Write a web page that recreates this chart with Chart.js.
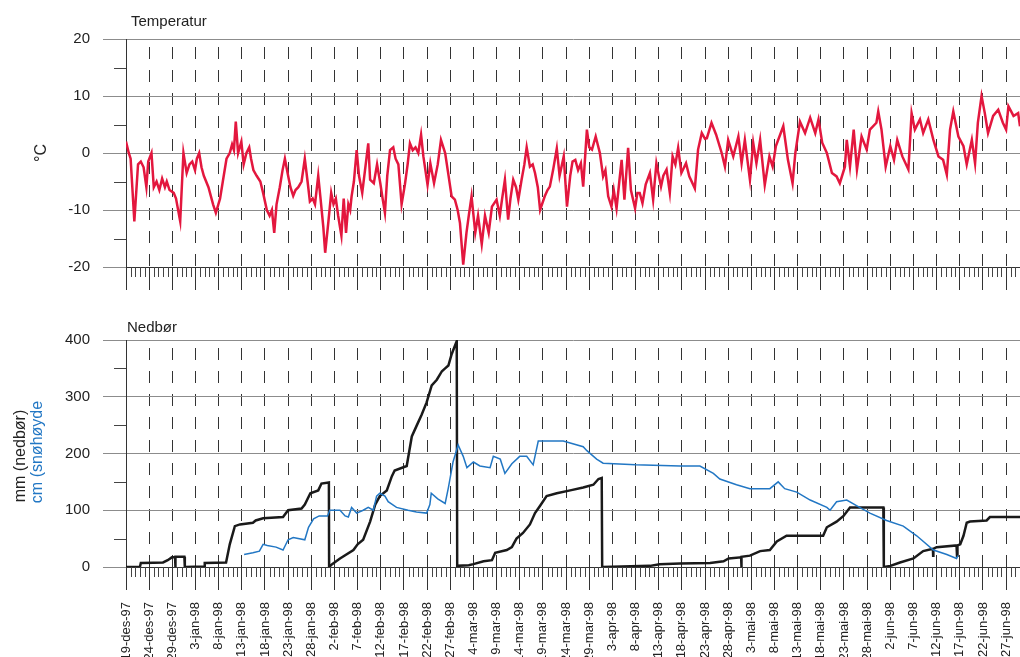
<!DOCTYPE html>
<html>
<head>
<meta charset="utf-8">
<script src="https://cdn.jsdelivr.net/npm/chart.js@4.4.1/dist/chart.umd.min.js"></script>
<style>
  body { margin: 0; background: #fff; font-family: "Liberation Sans", Arial, sans-serif; }
  #wrap { position: relative; width: 1020px; height: 657px; overflow: hidden; }
  canvas { position: absolute; left: 0; }
  .lbl { position: absolute; font-size: 15px; color: #222; white-space: nowrap; }
  .rot { font-size: 16px; transform: translate(-50%, -50%) rotate(-90deg); }
</style>
</head>
<body>
<div id="wrap">
  <canvas id="tempChart" width="1020" height="300" style="top:0"></canvas>
  <canvas id="rainChart" width="1020" height="357" style="top:300px"></canvas>
  <div class="lbl" style="left:131px; top:12px">Temperatur</div>
  <div class="lbl" style="left:127px; top:318px">Nedbør</div>
  <div class="lbl rot" style="left:41px; top:153px">°C</div>
  <div class="lbl rot" style="left:20px; top:456px">mm (nedbør)</div>
  <div class="lbl rot" style="left:37px; top:452px; color:#2277c4">cm (snøhøyde</div>
</div>
<script>
// days counted from 19-des-97
var lastDay = 193;

var dateLabels = ['19-des-97', '24-des-97', '29-des-97', '3-jan-98', '8-jan-98', '13-jan-98', '18-jan-98',
  '23-jan-98', '28-jan-98', '2-feb-98', '7-feb-98', '12-feb-98', '17-feb-98', '22-feb-98', '27-feb-98',
  '4-mar-98', '9-mar-98', '14-mar-98', '19-mar-98', '24-mar-98', '29-mar-98', '3-apr-98', '8-apr-98',
  '13-apr-98', '18-apr-98', '23-apr-98', '28-apr-98', '3-mai-98', '8-mai-98', '13-mai-98', '18-mai-98',
  '23-mai-98', '28-mai-98', '2-jun-98', '7-jun-98', '12-jun-98', '17-jun-98', '22-jun-98', '27-jun-98'];

// temperature (°C)
var tempDays = [0, 0.3, 0.6, 1.0, 1.8, 2.6, 3.2, 3.8, 4.4, 4.8, 5.5, 6.0, 6.6, 7.2, 7.8, 8.4, 8.8, 9.4, 10.3, 10.8,
  11.7, 12.4, 13.1, 13.7, 14.3, 14.9, 15.3, 15.8, 16.3, 16.8, 17.8, 18.8, 19.4, 20.3, 20.9, 21.7, 22.4, 22.9, 23.3, 23.7,
  24.2, 24.9, 25.4, 26.0, 26.6, 27.0, 27.5, 28.2, 29.0, 29.6, 30.4, 31.0, 31.5, 32.0, 32.5, 33.2, 33.8, 34.3, 35.0, 35.5,
  36.1, 36.6, 37.2, 37.9, 38.6, 39.2, 39.7, 40.3, 40.8, 41.5, 42.0, 42.6, 43.0, 43.7, 44.3, 44.8, 45.3, 45.8, 46.5, 47.0,
  47.5, 48.0, 48.4, 48.7, 49.2, 49.8, 50.3, 51.0, 51.6, 52.3, 52.7, 53.5, 54.2, 54.9, 55.4, 55.9, 56.4, 57.0, 57.7, 58.2,
  58.8, 59.5, 60.2, 60.8, 61.3, 61.9, 62.5, 63.1, 63.7, 64.2, 65.1, 65.7, 66.5, 67.3, 68.0, 68.9, 69.6, 70.3, 71.0, 71.6,
  72.1, 72.8, 73.5, 74.0, 74.6, 75.4, 76.0, 76.8, 77.5, 78.3, 79.0, 80.0, 80.7, 81.2, 81.8, 82.5, 83.0, 83.6, 84.2, 84.7,
  85.4, 86.0, 86.5, 87.2, 87.8, 88.3, 88.9, 89.4, 90.4, 91.0, 91.5, 92.2, 93.0, 93.6, 94.5, 95.2, 95.9, 96.4, 97.0, 97.6,
  98.2, 98.7, 99.5, 100.0, 100.6, 101.4, 102.3, 103.0, 103.5, 104.1, 104.8, 105.3, 105.9, 106.5, 107.0, 107.6, 108.4, 109.0, 109.9, 110.4,
  110.9, 111.5, 112.2, 113.1, 113.8, 114.5, 115.5, 116.0, 116.7, 117.4, 118.0, 118.6, 119.2, 119.9, 120.9, 121.6, 122.8, 123.5, 124.3, 125.0,
  125.4, 126.4, 127.4, 128.6, 129.3, 130.0, 131.1, 132.2, 132.9, 133.6, 134.7, 135.4, 136.1, 136.9, 137.9, 138.9, 139.6, 140.3, 141.9, 142.9,
  143.9, 144.5, 145.5, 146.6, 147.7, 148.8, 149.5, 150.3, 151.3, 152.4, 153.4, 154.1, 155.2, 155.6, 156.3, 157.1, 157.8, 158.8, 159.9, 160.6,
  162.0, 162.4, 163.1, 164.0, 165.0, 165.8, 166.5, 167.6, 168.9, 169.6, 170.3, 171.4, 172.1, 173.2, 174.3, 175.4, 176.4, 177.2, 177.9, 178.6,
  179.7, 180.8, 181.5, 182.6, 183.3, 183.9, 184.7, 185.4, 186.1, 187.2, 188.3, 189.3, 190.0, 190.5, 191.6, 192.6, 193.0];
var tempVals = [2, 1, 0, -1, -12, -2, -1.5, -2.5, -6, -1.5, 0, -6, -5, -6.5, -4.5, -6, -5, -6.5, -7, -8,
  -12, 0, -3.5, -2, -1.5, -3, -1, 0, -2.5, -4, -6, -9, -10.5, -8, -5, -1, 0, 1.5, 0.5, 5.5,
  0, 2, -2, 0, 1, -1, -3, -4, -5, -7, -10, -11, -10, -14, -9, -6, -3, -1, -4, -6,
  -7.5, -6.5, -6, -5, -1, -5, -8.5, -8, -9, -4, -8, -13, -17.5, -12, -7, -9, -8, -11, -14.5, -8,
  -14, -9, -10, -7.6, -5, 0.5, -4, -7, -3, 1.7, -4.7, -5.3, -2, -5.3, -8, -10.5, -4, 0.5, 1, -1,
  -2, -9, -5.6, -2, 1.7, 0.5, 1, 0, 3.2, -0.6, -5.6, -1.8, -5.3, -2, 2.3, 0, -3.8, -7.6, -8.2, -10,
  -12.3, -19.6, -14, -11, -7.6, -14, -11, -16, -11, -14, -9.4, -8.2, -11, -8, -4.7, -11.7, -8, -4.7, -6, -8.2,
  -4.7, -2, 1, -2.4, -2, -3.5, -6, -10, -7.6, -6.5, -5.9, -3, 0.8, -4, -0.6, -9.4, -4, -1.5, -1.2, -3,
  -1.8, -5.9, 4.1, 1, 0.6, 2.9, 0, -4.1, -3, -7.6, -9.4, -6.5, -9.7, -5, -1.2, -8.2, 0.9, -6.5, -9.7, -7,
  -7, -8.8, -5.5, -3.5, -8.2, -1.8, -5.9, -4, -2.9, -7, -0.6, -2, 0.9, -3.5, -1.8, -4.1, -6.2, 0.6, 3.5, 2.5,
  2.6, 5.3, 3.2, 0, -2.4, 2.3, -0.6, 2.9, -1.8, 2.3, -4.7, 1.8, -1.8, 2.3, -5.6, -0.6, -2.4, 1.2, 4.7, -1.2,
  -5.3, 0, 5.5, 3.5, 6.2, 3.5, 5.9, 1.8, 0, -3.5, -4.1, -5.3, -2.4, 2.3, -2.4, 4.1, -2.9, 2.9, 0.6, 4.1,
  5.3, 7.3, 4.1, -2.4, 1.2, -1.2, 2.3, -0.6, -2.9, 7, 4.1, 5.9, 3.5, 5.9, 2.3, -0.6, -1.2, -3.8, 4.1, 7.3,
  2.9, 1.2, -2, 2.3, -1.8, 5.3, 10, 7, 3.5, 6.5, 7.6, 5.3, 4.1, 8.2, 6.5, 7, 4.7];

// accumulated precipitation (mm)
var rainDays = [0, 3.0, 3.2, 6.0, 8.0, 9.0, 9.9, 10.6, 10.65, 10.7, 12.6, 12.7, 16.9, 17.0, 21.6, 22.4, 23.5, 24.6, 27.4, 28.0,
  29.6, 33.9, 35.0, 37.9, 38.6, 39.8, 41.5, 42.2, 43.8, 43.85, 44.5, 46.2, 49.1, 50.0, 51.2, 52.7, 53.8, 54.8, 56.3, 57.4,
  58.0, 60.6, 61.7, 62.8, 63.8, 64.9, 66.0, 67.1, 68.2, 68.9, 69.6, 70.3, 71.4, 71.5, 74.0, 75.0, 77.2, 79.0, 79.7, 82.2,
  83.3, 84.3, 85.7, 87.2, 88.3, 89.4, 90.8, 93.0, 95.9, 98.7, 100.9, 102.0, 102.7, 102.8, 113.1, 115.2, 119.6, 126.1, 129.0, 130.1,
  132.8, 132.85, 132.9, 134.7, 136.9, 139.0, 140.5, 142.6, 150.5, 151.3, 153.4, 154.9, 156.3, 163.5, 163.6, 165.0, 167.1, 170.0, 172.1, 174.2,
  174.25, 174.3, 175.0, 179.3, 179.4, 179.5, 180.1, 180.8, 181.5, 182.2, 185.8, 186.5, 193.0];
var rainVals = [0, 0, 7, 7.5, 8, 12, 17, 17, 0, 18, 18, 0, 1, 7, 8, 40, 72, 75, 78, 82,
  86, 88, 100, 103, 110, 130, 135, 147, 149, 0, 5, 15, 30, 40, 48, 80, 110, 125, 135, 160,
  170, 178, 230, 250, 268, 290, 320, 330, 345, 350, 355, 375, 398, 2, 3, 5, 10, 12, 25, 30,
  35, 50, 60, 75, 95, 108, 125, 130, 135, 140, 145, 155, 157, 0, 2, 5, 6, 7, 10, 15,
  17, 0, 18, 20, 28, 30, 45, 55, 55, 70, 80, 90, 105, 105, 0, 2, 8, 15, 28, 32,
  20, 32, 35, 38, 20, 38, 40, 55, 78, 80, 82, 88, 88];

// snow depth (cm)
var snowDays = [25.5, 27.4, 28.8, 29.6, 30.5, 32.4, 33.9, 35.0, 36.1, 38.6, 39.4, 40.5, 41.7, 43.5, 44.0, 46.2, 47.3, 48.0, 48.7, 49.8,
  51.2, 52.3, 53.4, 54.1, 54.8, 55.9, 56.6, 58.4, 60.9, 62.7, 64.9, 65.6, 65.9, 67.3, 68.9, 69.6, 70.6, 71.7, 72.8, 73.6,
  75.0, 76.4, 78.6, 79.3, 80.8, 81.8, 83.3, 85.0, 86.5, 87.9, 89.0, 94.4, 98.7, 99.5, 101.6, 103.0, 110.0, 119.6, 123.9, 126.8,
  128.2, 131.8, 134.7, 139.0, 140.8, 142.2, 144.8, 147.7, 151.3, 152.0, 153.4, 155.6, 157.7, 160.6, 164.2, 167.8, 170.7, 174.3, 177.2, 179.3, 179.6];
var snowVals = [22, 25, 28, 40, 38, 35, 30, 48, 52, 48, 70, 85, 90, 90, 100, 100, 90, 88, 105, 95,
  100, 105, 100, 125, 130, 125, 115, 105, 100, 97, 95, 110, 130, 120, 112, 140, 185, 215, 195, 175,
  185, 178, 175, 195, 190, 165, 182, 195, 195, 180, 222, 222, 212, 205, 190, 183, 180, 178, 178, 165,
  155, 145, 138, 138, 150, 138, 132, 118, 105, 100, 115, 118, 108, 95, 82, 72, 55, 30, 22, 15, 20];

function toPoints(days, vals) {
  var out = [];
  for (var i in days) {
    out.push({x: days[i], y: vals[i]});
  }
  return out;
}

// short ticks every day on the x axis and half steps on the y axis
var minorTicks = {
  id: 'minorTicks',
  afterDraw: function(chart, args, opts) {
    var ctx = chart.ctx, xs = chart.scales.x, ys = chart.scales.y, a = chart.chartArea;
    ctx.save();
    ctx.strokeStyle = '#444';
    ctx.lineWidth = 1;
    ctx.beginPath();
    for (var d = 0; d <= lastDay; d++) {
      if (d % 5 == 0) continue;
      var px = Math.round(xs.getPixelForValue(d)) + 0.5;
      ctx.moveTo(px, a.bottom);
      ctx.lineTo(px, a.bottom + 10);
    }
    for (var v = ys.min; v <= ys.max; v += opts.yStep) {
      if (v % (opts.yStep * 2) == 0) continue;
      var py = Math.round(ys.getPixelForValue(v)) + 0.5;
      ctx.moveTo(a.left - 12, py);
      ctx.lineTo(a.left, py);
    }
    ctx.stroke();
    ctx.restore();
  }
};

function xScale(showLabels, height) {
  var major = function(c) { return c.tick && c.tick.value % 5 == 0 ? '#333' : 'rgba(0,0,0,0)'; };
  return {
    type: 'linear', min: 0, max: lastDay,
    ticks: {
      stepSize: 1, autoSkip: false, display: showLabels, maxRotation: 90, minRotation: 90,
      padding: 12, color: '#222', font: {size: 13},
      callback: function(v) { return v % 5 == 0 ? dateLabels[v / 5] : ''; }
    },
    grid: { color: major, tickColor: major, tickLength: 23, lineWidth: 1 },
    border: { color: '#333', width: 1, dash: [12, 11], dashOffset: 15 },
    afterFit: function(s) { s.height = height; s.paddingLeft = 0; s.paddingRight = 0; }
  };
}

function yScale(min, max, step) {
  var major = function(c) { return c.tick && c.tick.value % (step * 2) == 0 ? '#8c8c8c' : 'rgba(0,0,0,0)'; };
  return {
    min: min, max: max,
    ticks: {
      stepSize: step, padding: 13, color: '#222', font: {size: 15},
      callback: function(v) { return v % (step * 2) == 0 ? v : ''; }
    },
    grid: { color: major, tickColor: major, tickLength: 23, lineWidth: 1 },
    border: { color: '#333', width: 1 },
    afterFit: function(s) { s.width = 126; }
  };
}

Chart.defaults.font.family = '"Liberation Sans", Arial, sans-serif';
Chart.defaults.animation = false;

new Chart(document.getElementById('tempChart'), {
  type: 'line',
  data: {
    datasets: [{
      label: 'Temperatur',
      data: toPoints(tempDays, tempVals),
      borderColor: '#e3173e', borderWidth: 2.5, pointRadius: 0, tension: 0
    }]
  },
  options: {
    responsive: false,
    devicePixelRatio: 1,
    layout: { padding: { top: 39, left: 0, right: 0, bottom: 0 } },
    plugins: { legend: { display: false }, tooltip: { enabled: false }, minorTicks: { yStep: 5 } },
    scales: { x: xScale(false, 33), y: yScale(-20, 20, 5) }
  },
  plugins: [minorTicks]
});

new Chart(document.getElementById('rainChart'), {
  type: 'line',
  data: {
    datasets: [{
      label: 'Snøhøyde',
      data: toPoints(snowDays, snowVals),
      borderColor: '#2277c4', borderWidth: 1.5, pointRadius: 0, tension: 0
    }, {
      label: 'Nedbør',
      data: toPoints(rainDays, rainVals),
      borderColor: '#1a1a1a', borderWidth: 2.5, pointRadius: 0, tension: 0
    }]
  },
  options: {
    responsive: false,
    devicePixelRatio: 1,
    layout: { padding: { top: 40, left: 0, right: 0, bottom: 0 } },
    plugins: { legend: { display: false }, tooltip: { enabled: false }, minorTicks: { yStep: 50 } },
    scales: { x: xScale(true, 90), y: yScale(0, 400, 50) }
  },
  plugins: [minorTicks]
});
</script>
</body>
</html>
